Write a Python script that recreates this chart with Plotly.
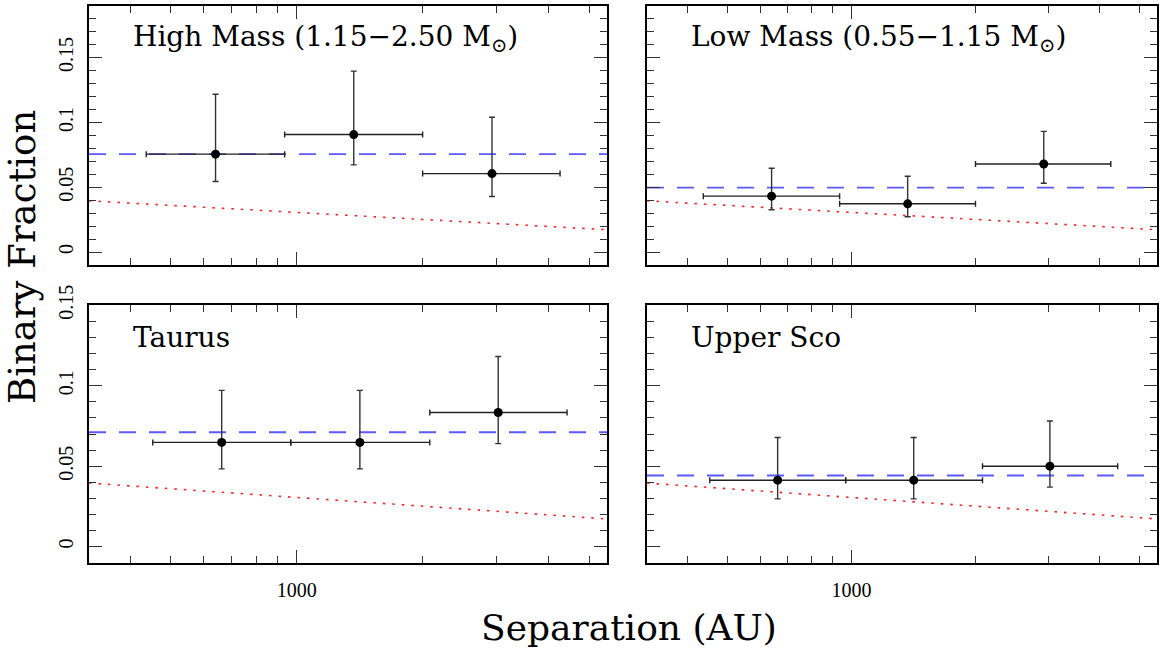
import numpy as np
import plotly.graph_objects as go

# ---------------- data ----------------
panel_names = ["High Mass (1.15\u22122.50 M<sub>\u2299</sub>)", "Low Mass (0.55\u22121.15 M<sub>\u2299</sub>)",
               "Taurus", "Upper Sco"]

# separation bins (AU): centre, lower edge, upper edge
sep_top = [640, 1369, 2929]
sep_top_lo = [437, 936, 2000]
sep_top_hi = [936, 2000, 4260]
sep_bot = [662, 1416, 3031]
sep_bot_lo = [453, 968, 2080]
sep_bot_hi = [968, 2080, 4427]

# binary fractions with asymmetric bounds
high_frac = [0.0755, 0.0906, 0.0605]
high_up = [0.1217, 0.1395, 0.1040]
high_lo = [0.0544, 0.0672, 0.0428]
high_mean = 0.0755

low_frac = [0.0431, 0.0372, 0.0679]
low_up = [0.0646, 0.0585, 0.0931]
low_lo = [0.0326, 0.0272, 0.0531]
low_mean = 0.0497

tau_frac = [0.0648, 0.0648, 0.0834]
tau_up = [0.0971, 0.0971, 0.1182]
tau_lo = [0.0483, 0.0483, 0.0640]
tau_mean = 0.0711

usco_frac = [0.0413, 0.0413, 0.0500]
usco_up = [0.0678, 0.0678, 0.0781]
usco_lo = [0.0297, 0.0297, 0.0370]
usco_mean = 0.0442

# field expectation (red dotted)
model_sep = [319, 5515]
model_frac = [0.0395, 0.0172]

x_minor_ticks = [400, 500, 600, 700, 800, 900, 2000, 3000, 4000, 5000]
x_major_ticks = [1000]
x_major_text = ["1000"]

# ---------------- layout ----------------
W, H = 1173, 648
XR = [np.log10(319), np.log10(5515)]
dom_x = [[89 / W, 607 / W], [647 / W, 1157 / W]]
dom_y_top = [1 - 265 / H, 1 - 5.7 / H]
dom_y_bot = [1 - 562.7 / H, 1 - 305 / H]

panels = [
    dict(sep=sep_top, lo=sep_top_lo, hi=sep_top_hi, f=high_frac, fu=high_up, fl=high_lo, mean=high_mean,
         dx=dom_x[0], dy=dom_y_top, yr=[-0.01, 0.19], xlab=False, ylab=True),
    dict(sep=sep_top, lo=sep_top_lo, hi=sep_top_hi, f=low_frac, fu=low_up, fl=low_lo, mean=low_mean,
         dx=dom_x[1], dy=dom_y_top, yr=[-0.01, 0.19], xlab=False, ylab=False),
    dict(sep=sep_bot, lo=sep_bot_lo, hi=sep_bot_hi, f=tau_frac, fu=tau_up, fl=tau_lo, mean=tau_mean,
         dx=dom_x[0], dy=dom_y_bot, yr=[-0.01, 0.1502], xlab=True, ylab=True),
    dict(sep=sep_bot, lo=sep_bot_lo, hi=sep_bot_hi, f=usco_frac, fu=usco_up, fl=usco_lo, mean=usco_mean,
         dx=dom_x[1], dy=dom_y_bot, yr=[-0.01, 0.1502], xlab=True, ylab=False),
]

fig = go.Figure()
tickfont = dict(family="Liberation Serif", size=20, color="black")
layout = {}
for i, p in enumerate(panels):
    n = "" if i == 0 else str(i + 1)
    xa, ya = "x" + n, "y" + n
    # model line
    fig.add_trace(go.Scatter(x=model_sep, y=model_frac, mode="lines", xaxis=xa, yaxis=ya,
                             line=dict(color="#ff2020", width=1.6, dash="2.5px,7px"), hoverinfo="skip"))
    # mean line
    fig.add_trace(go.Scatter(x=[10 ** XR[0], 10 ** XR[1]], y=[p["mean"], p["mean"]], mode="lines",
                             xaxis=xa, yaxis=ya,
                             line=dict(color="#5a5aff", width=1.8, dash="17px,13px"), hoverinfo="skip"))
    f = np.array(p["f"]); fu = np.array(p["fu"]); fl = np.array(p["fl"])
    s = np.array(p["sep"]); lo = np.array(p["lo"]); hi = np.array(p["hi"])
    fig.add_trace(go.Scatter(
        x=s, y=f, mode="markers", xaxis=xa, yaxis=ya,
        marker=dict(color="black", size=9),
        error_y=dict(type="data", symmetric=False, array=fu - f, arrayminus=f - fl,
                     color="#333333", thickness=1.4, width=3),
        error_x=dict(type="data", symmetric=False, array=hi - s, arrayminus=s - lo,
                     color="#222222", thickness=1.4, width=3),
    ))
    layout["xaxis" + n] = dict(
        type="log", range=XR, domain=p["dx"], anchor=ya, automargin=False,
        showline=True, linecolor="black", linewidth=2, mirror="allticks",
        ticks="inside", ticklen=13, tickwidth=1.3, tickcolor="#333",
        tickmode="array", tickvals=x_major_ticks, ticktext=x_major_text,
        showticklabels=p["xlab"], tickfont=tickfont, ticklabelstandoff=8,
        minor=dict(tickmode="array", tickvals=x_minor_ticks, ticks="inside", ticklen=7,
                   tickwidth=1.2, tickcolor="#333", showgrid=False),
        showgrid=False, zeroline=False,
    )
    layout["yaxis" + n] = dict(
        range=p["yr"], domain=p["dy"], anchor=xa, automargin=False,
        showline=True, linecolor="black", linewidth=2, mirror="allticks",
        ticks="inside", ticklen=13, tickwidth=1.3, tickcolor="#333",
        tick0=0, dtick=0.05, showticklabels=p["ylab"], tickfont=tickfont, tickangle=-90,
        ticklabelstandoff=6,
        minor=dict(tick0=0, dtick=0.01, ticks="inside", ticklen=7, tickwidth=1.2,
                   tickcolor="#333", showgrid=False),
        showgrid=False, zeroline=False,
    )

annotations = []
for i, name in enumerate(panel_names):
    n = "" if i == 0 else str(i + 1)
    annotations.append(dict(text=name, xref="x" + n + " domain", yref="y" + n + " domain",
                            x=0.082, y=0.875, xanchor="left", yanchor="middle", showarrow=False,
                            font=dict(family="DejaVu Serif", size=28, color="black")))
annotations.append(dict(text="Separation (AU)", xref="paper", yref="paper", x=629 / W, y=1 - 627 / H,
                        xanchor="center", yanchor="middle", showarrow=False,
                        font=dict(family="DejaVu Serif", size=36, color="black")))
annotations.append(dict(text="Binary Fraction", xref="paper", yref="paper", x=22 / W, y=1 - 257 / H,
                        xanchor="center", yanchor="middle", showarrow=False, textangle=-90,
                        font=dict(family="DejaVu Serif", size=37, color="black")))

fig.update_layout(width=W, height=H, margin=dict(l=0, r=0, t=0, b=0, pad=0, autoexpand=False),
                  paper_bgcolor="white", plot_bgcolor="white", showlegend=False,
                  annotations=annotations, **layout)

fig.write_html("out.html", config={"displayModeBar": False},
               post_script="document.body.style.margin='0';")
